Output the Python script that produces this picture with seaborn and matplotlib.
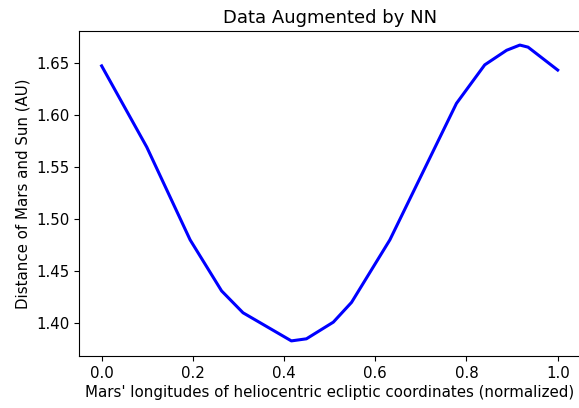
import matplotlib
matplotlib.use("Agg")
import matplotlib.pyplot as plt
import seaborn as sns
import pandas as pd

# Values
longitude_norm = [0.0, 0.099, 0.194, 0.263, 0.310, 0.416, 0.449, 0.508, 0.548,
                  0.632, 0.778, 0.840, 0.888, 0.917, 0.935, 1.0]
distance_au = [1.647, 1.569, 1.480, 1.431, 1.410, 1.383, 1.385, 1.401, 1.420,
               1.480, 1.611, 1.648, 1.662, 1.667, 1.665, 1.643]

df = pd.DataFrame({"x": longitude_norm, "y": distance_au})

plt.rcParams["font.size"] = 10.8
plt.rcParams["xtick.major.size"] = 3.8
plt.rcParams["ytick.major.size"] = 3.8
fig = plt.figure(figsize=(5.79, 4.08), dpi=100)
ax = fig.add_axes([79.3 / 579, 1 - 356 / 408, (580.5 - 79.3) / 579, (356 - 31) / 408])
sns.lineplot(data=df, x="x", y="y", ax=ax, color="blue", linewidth=2.2,
             sort=False, estimator=None)
ax.set_xlim(-0.049, 1.05)
ax.set_ylim(1.3685, 1.6805)
ax.set_xticks([0.0, 0.2, 0.4, 0.6, 0.8, 1.0])
ax.set_yticks([1.40, 1.45, 1.50, 1.55, 1.60, 1.65])
ax.tick_params(labelsize=10.8)
ax.set_title("Data Augmented by NN", fontsize=13, pad=6)
ax.set_xlabel("Mars' longitudes of heliocentric ecliptic coordinates (normalized)", fontsize=10.8, labelpad=3)
ax.set_ylabel("Distance of Mars and Sun (AU)", fontsize=10.8, labelpad=4)
fig.savefig("out.png", dpi=100)
